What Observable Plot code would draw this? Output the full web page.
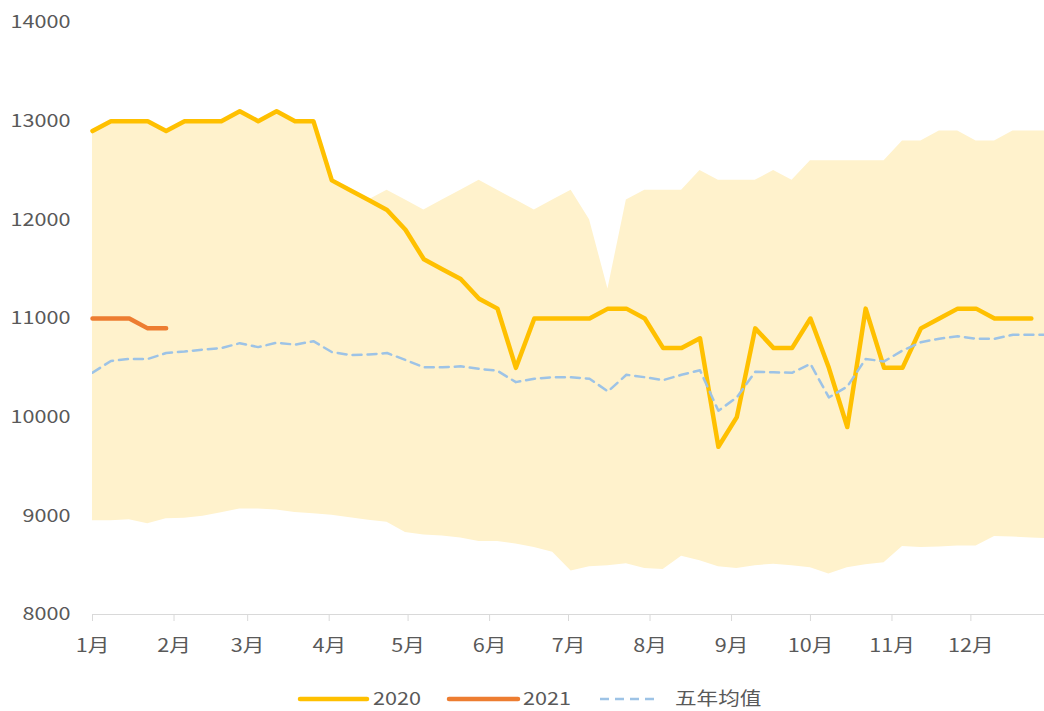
<!DOCTYPE html>
<html>
<head>
<meta charset="utf-8">
<script src="https://cdn.jsdelivr.net/npm/d3@7"></script>
<script src="https://cdn.jsdelivr.net/npm/@observablehq/plot@0.6"></script>
<style>
  html, body { margin: 0; padding: 0; background: #fff; overflow: hidden; }
  #chart { width: 1044px; height: 711px; font-family: "Noto Sans CJK SC", "Noto Sans", sans-serif; }
  #chart svg { display: block; }
</style>
</head>
<body>
<div id="chart"></div>
<script>
// ---- data (weekly points) ----
const months = ["1月","2月","3月","4月","5月","6月","7月","8月","9月","10月","11月","12月"];
const yTicks = [8000, 9000, 10000, 11000, 12000, 13000, 14000];

// five-year maximum (upper edge of band)
const bandMax = [12900,13000,13000,13000,12900,13000,13000,13000,13100,13000,
                 13100,13000,13000,12400,12300,12200,12300,12200,12100,12200,
                 12300,12400,12300,12200,12100,12200,12300,12000,11300,12200,
                 12300,12300,12300,12500,12400,12400,12400,12500,12400,12600,
                 12600,12600,12600,12600,12800,12800,12900,12900,12800,12800,
                 12900,12900,12900];
// five-year minimum (lower edge of band)
const bandMin = [8950,8950,8960,8920,8970,8975,8995,9030,9070,9070,
                 9060,9035,9020,9005,8980,8955,8935,8830,8805,8795,
                 8775,8740,8740,8715,8680,8630,8440,8485,8495,8515,
                 8465,8455,8590,8545,8485,8465,8495,8510,8495,8475,
                 8410,8475,8505,8525,8690,8680,8685,8695,8695,8790,
                 8785,8775,8770];
// five-year average
const avg5 = [10450,10570,10590,10590,10650,10665,10685,10700,10750,10710,
              10755,10735,10770,10660,10630,10635,10650,10580,10505,10505,
              10515,10490,10470,10355,10390,10405,10405,10390,10260,10430,
              10405,10375,10430,10475,10065,10200,10460,10455,10450,10540,
              10200,10310,10590,10565,10675,10760,10795,10820,10795,10795,
              10835,10835,10835];
const s2020 = [12900,13000,13000,13000,12900,13000,13000,13000,13100,13000,
               13100,13000,13000,12400,12300,12200,12100,11900,11600,11500,
               11400,11200,11100,10500,11000,11000,11000,11000,11100,11100,
               11000,10700,10700,10800,9700,10000,10900,10700,10700,11000,
               10500,9900,11100,10500,10500,10900,11000,11100,11100,11000,
               11000,11000];
const s2021 = [11000,11000,11000,10900,10900];

// ---- build tables ----
const t0 = Date.UTC(2021, 0, 1);
const weekDate = i => new Date(t0 + i * 7 * 864e5);
const band = bandMax.map((hi, i) => ({date: weekDate(i), lo: bandMin[i], hi}));
const avgT = avg5.map((v, i) => ({date: weekDate(i), v}));
const t2020 = s2020.map((v, i) => ({date: weekDate(i), v}));
const t2021 = s2021.map((v, i) => ({date: weekDate(i), v}));
const monthStarts = months.map((m, k) => new Date(Date.UTC(2021, k, 1)));

const C2020 = "#FFC000", C2021 = "#ED7D31", CAVG = "#9DC3E6", CBAND = "#FFF2CC";
const FONT = "'Noto Sans CJK SC', 'Noto Sans', sans-serif";

const plot = Plot.plot({
  width: 1044,
  height: 680,
  marginLeft: 92,
  marginRight: 0,
  marginTop: 22,
  marginBottom: 66,
  style: {fontFamily: FONT, fontSize: "18px", color: "#595959", background: "white", overflow: "visible"},
  x: {type: "utc", domain: [new Date(t0), new Date(Date.UTC(2021, 11, 29))]},
  y: {domain: [8000, 14000]},
  marks: [
    Plot.areaY(band, {x: "date", y1: "lo", y2: "hi", fill: CBAND, clip: true}),
    Plot.ruleY([8000], {stroke: "#D9D9D9", strokeWidth: 1.2}),
    Plot.lineY(t2020, {x: "date", y: "v", stroke: C2020, strokeWidth: 4.5, strokeLinejoin: "round", strokeLinecap: "round"}),
    Plot.lineY(t2021, {x: "date", y: "v", stroke: C2021, strokeWidth: 4.5, strokeLinejoin: "round", strokeLinecap: "round"}),
    Plot.lineY(avgT, {x: "date", y: "v", stroke: CAVG, strokeWidth: 2.5, strokeDasharray: "9,6", clip: true}),
    Plot.axisX(monthStarts, {tickSize: 7, tickPadding: 18, stroke: "#D9D9D9", fill: "#595959",
      tickFormat: d => months[d.getUTCMonth()]}),
    Plot.axisY(yTicks, {tickSize: 0, tickPadding: 22, fill: "#595959", tickFormat: d => String(d)})
  ]
});

// horizontally widen text glyphs as in the reference rendering
function widen(svg) {
  svg.querySelectorAll("text").forEach(t => {
    const tr = t.getAttribute("transform");
    if (tr) t.setAttribute("transform", tr + " scale(1.2,1)");
    else {
      const x = +(t.getAttribute("x") || 0), y = +(t.getAttribute("y") || 0);
      t.removeAttribute("x"); t.removeAttribute("y");
      t.setAttribute("transform", `translate(${x},${y}) scale(1.2,1)`);
    }
  });
}
widen(plot);
document.getElementById("chart").appendChild(plot);

// ---- legend (below the chart) ----
const legendItems = [
  {label: "2020", color: C2020, w: 4.5, dash: null, x0: 300, x1: 367, tx: 373},
  {label: "2021", color: C2021, w: 4.5, dash: null, x0: 449, x1: 518, tx: 523},
  {label: "五年均值", color: CAVG, w: 2.5, dash: "9,6", x0: 600, x1: 660, tx: 675}
];
const lg = d3.create("svg").attr("width", 1044).attr("height", 31)
  .style("display", "block").style("font-family", FONT).style("font-size", "18px");
const gi = lg.selectAll("g").data(legendItems).join("g");
gi.append("line").attr("x1", d => d.x0).attr("x2", d => d.x1).attr("y1", 19).attr("y2", 19)
  .attr("stroke", d => d.color).attr("stroke-width", d => d.w)
  .attr("stroke-linecap", d => d.dash ? "butt" : "round")
  .attr("stroke-dasharray", d => d.dash);
gi.append("text").attr("transform", d => `translate(${d.tx},19) scale(1.2,1)`)
  .attr("dy", "0.35em").attr("fill", "#595959").text(d => d.label);
document.getElementById("chart").appendChild(lg.node());
</script>
</body>
</html>
